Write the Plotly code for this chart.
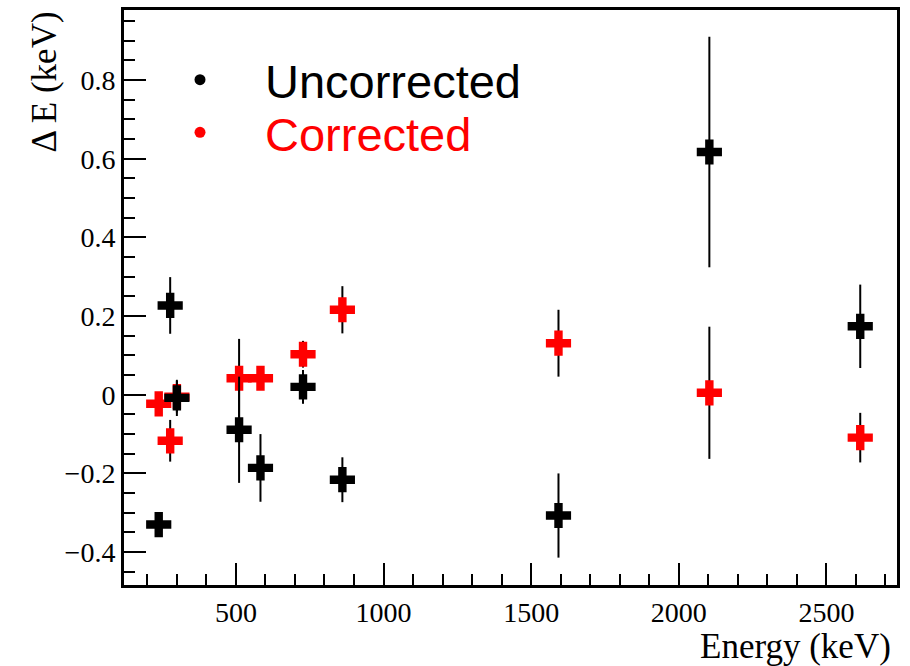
import plotly.graph_objects as go

# Gamma-line energies (keV)
energy = [238.6, 277.4, 300.1, 510.8, 583.2, 727.3, 860.6, 1592.5, 2103.5, 2614.5]

# Uncorrected residuals (keV) and errors
unc_dE = [-0.330, 0.227, -0.008, -0.089, -0.186, 0.020, -0.216, -0.307, 0.617, 0.174]
unc_err = [0.015, 0.072, 0.046, 0.135, 0.086, 0.043, 0.057, 0.107, 0.293, 0.106]

# Corrected residuals (keV) and errors
cor_dE = [-0.023, -0.117, -0.005, 0.042, 0.042, 0.103, 0.216, 0.131, 0.005, -0.109]
cor_err = [0.015, 0.053, 0.040, 0.100, 0.025, 0.034, 0.060, 0.085, 0.168, 0.063]

legend_labels = ["Uncorrected", "Corrected"]
legend_colors = ["black", "red"]

W, H = 910, 666
L, R, T, B = 124, 13, 7, 81
PW, PH = W - L - R, H - T - B

def px_x(p):
    return (p - L) / PW

def px_y(p):
    return 1 - (p - T) / PH

fig = go.Figure()

fig.add_trace(go.Scatter(
    x=energy, y=cor_dE, mode="markers",
    marker=dict(symbol="cross", size=21, color="red", line=dict(width=0)),
    error_y=dict(type="data", array=cor_err, visible=True, color="black", thickness=2, width=0),
    showlegend=False,
))
fig.add_trace(go.Scatter(
    x=energy, y=unc_dE, mode="markers",
    marker=dict(symbol="cross", size=21, color="black", line=dict(width=0)),
    error_y=dict(type="data", array=unc_err, visible=True, color="black", thickness=2, width=0),
    showlegend=False,
))

serif = "Liberation Serif"
axis_font = dict(family=serif, size=28, color="black")

fig.update_xaxes(
    range=[121, 2739], showline=True, linecolor="black", linewidth=3, mirror=True,
    ticks="inside", ticklen=22, tickwidth=2, tickcolor="black",
    tick0=0, dtick=500, showgrid=False, zeroline=False,
    minor=dict(ticks="inside", ticklen=11, tickwidth=2, tickcolor="black", dtick=100, showgrid=False),
    tickfont=axis_font,
)
fig.update_yaxes(
    range=[-0.4836, 0.978], showline=True, linecolor="black", linewidth=3, mirror=True,
    ticks="inside", ticklen=22, tickwidth=2, tickcolor="black",
    tick0=0, dtick=0.2, showgrid=False, zeroline=False,
    minor=dict(ticks="inside", ticklen=11, tickwidth=2, tickcolor="black", dtick=0.05, showgrid=False),
    tickfont=axis_font, tickformat="~g",
)

annotations = [
    dict(text="Energy (keV)", x=px_x(893), y=px_y(647), xref="paper", yref="paper",
         xanchor="right", yanchor="middle", showarrow=False,
         font=dict(family=serif, size=35, color="black")),
    dict(text="Δ E (keV)", x=px_x(44), y=px_y(7), xref="paper", yref="paper",
         xanchor="center", yanchor="top", textangle=-90, showarrow=False,
         font=dict(family=serif, size=35, color="black")),
]
shapes = []
leg_y = [79, 132]
for lab, col, yy in zip(legend_labels, legend_colors, leg_y):
    annotations.append(dict(text=lab, x=px_x(263), y=px_y(yy), xref="paper", yref="paper",
                            xanchor="left", yanchor="middle", showarrow=False,
                            font=dict(family="Liberation Sans", size=47, color=col)))
    shapes.append(dict(type="circle", xref="paper", yref="paper",
                       xsizemode="pixel", ysizemode="pixel",
                       xanchor=px_x(200), yanchor=px_y(yy - 2),
                       x0=-5.5, x1=5.5, y0=-5.5, y1=5.5,
                       fillcolor=col, line=dict(width=0)))

fig.update_layout(
    width=W, height=H, margin=dict(l=L, r=R, t=T, b=B),
    paper_bgcolor="white", plot_bgcolor="white",
    annotations=annotations, shapes=shapes,
)

fig.write_html("out.html")
